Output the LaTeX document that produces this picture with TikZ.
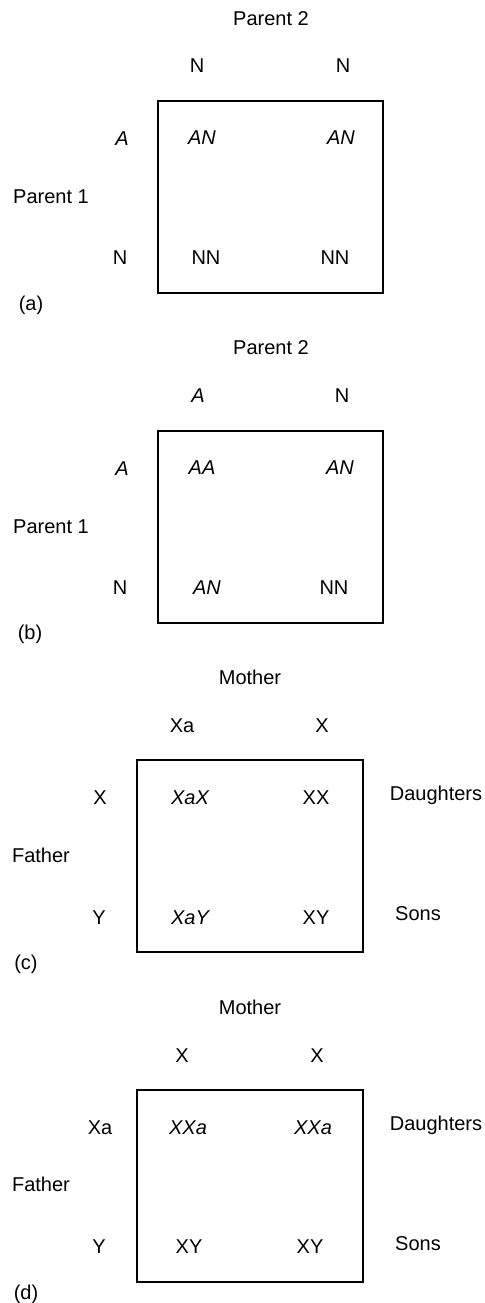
\documentclass[tikz,border=0pt]{standalone}
\usepackage{fontspec}
\setmainfont{Liberation Sans}
\usetikzlibrary{positioning}

\begin{document}
\begin{tikzpicture}[
  x=0.5pt,y=-0.5pt,
  txt/.style={
    inner sep=0pt,
    text height=7.2pt,
    text depth=0pt,
    font=\fontsize{10}{12}\selectfont
  },
  gene/.style={txt,font=\fontsize{10}{12}\selectfont\itshape},
  square/.style={draw=black,line width=1pt}
]
  \useasboundingbox (0,0) rectangle (485,1303);

  % (a)
  \node[txt] (pa2) at (271,18) {Parent 2};
  \node[txt] (ta1) at (197,65) {N};
  \node[txt] (ta2) at (343,65) {N};
  \draw[square] (158,101) rectangle (383,293);
  \node[gene] (la1) at (122,138) {A};
  \node[txt] (pa1) at (51,196) {Parent 1};
  \node[txt] (la2) at (120,257) {N};
  \node[gene] (ca11) at (202,137) {AN};
  \node[gene] (ca12) at (341,137) {AN};
  \node[txt] (ca21) at (206,257) {NN};
  \node[txt] (ca22) at (335,257) {NN};
  \node[txt] (capa) at (31,303) {(a)};

  % (b)
  \node[txt] (pb2) at (271,347) {Parent 2};
  \node[gene] (tb1) at (198,395) {A};
  \node[txt] (tb2) at (342,395) {N};
  \draw[square] (158,431) rectangle (383,623);
  \node[gene] (lb1) at (122,468) {A};
  \node[txt] (pb1) at (51,526) {Parent 1};
  \node[txt] (lb2) at (120,587) {N};
  \node[gene] (cb11) at (202,467) {AA};
  \node[gene] (cb12) at (340,467) {AN};
  \node[gene] (cb21) at (207,587) {AN};
  \node[txt] (cb22) at (334,587) {NN};
  \node[txt] (capb) at (30,632) {(b)};

  % (c)
  \node[txt] (mc) at (250,677) {Mother};
  \node[txt] (tc1) at (182,725) {Xa};
  \node[txt] (tc2) at (322,725) {X};
  \draw[square] (137,760) rectangle (363,952);
  \node[txt] (lc1) at (100,797) {X};
  \node[txt] (fc) at (41,855) {Father};
  \node[txt] (lc2) at (99,917) {Y};
  \node[gene] (cc11) at (190,797) {XaX};
  \node[txt] (cc12) at (316,797) {XX};
  \node[gene] (cc21) at (190,917) {XaY};
  \node[txt] (cc22) at (316,917) {XY};
  \node[txt] (dc) at (436,793) {Daughters};
  \node[txt] (sc) at (418,913) {Sons};
  \node[txt] (capc) at (26,962) {(c)};

  % (d)
  \node[txt] (md) at (250,1007) {Mother};
  \node[txt] (td1) at (182,1055) {X};
  \node[txt] (td2) at (317,1055) {X};
  \draw[square] (137,1090) rectangle (363,1282);
  \node[txt] (ld1) at (100,1127) {Xa};
  \node[txt] (fd) at (41,1184) {Father};
  \node[txt] (ld2) at (99,1246) {Y};
  \node[gene] (cd11) at (188,1127) {XXa};
  \node[gene] (cd12) at (313,1127) {XXa};
  \node[txt] (cd21) at (189,1246) {XY};
  \node[txt] (cd22) at (310,1246) {XY};
  \node[txt] (dd) at (436,1123) {Daughters};
  \node[txt] (sd) at (418,1243) {Sons};
  \node[txt] (capd) at (26,1292) {(d)};
\end{tikzpicture}
\end{document}
